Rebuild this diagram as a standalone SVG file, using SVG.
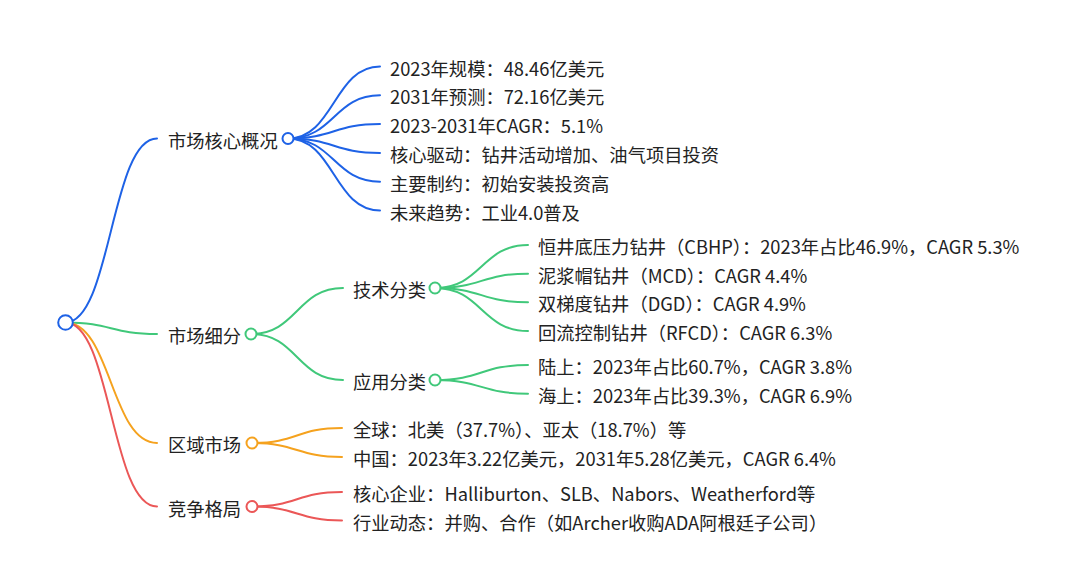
<svg xmlns="http://www.w3.org/2000/svg" width="1080" height="588" viewBox="0 0 1080 588">
<style>
text{font-family:"Noto Sans CJK SC","Noto Sans",sans-serif;font-size:18.3px;fill:#222;}
.l{fill:none;stroke-width:2;stroke-linecap:round;}
.b{stroke:#1e62e6;}.g{stroke:#40c87a;}.o{stroke:#f5a21e;}.r{stroke:#eb5757;}
.c{fill:#fff;stroke-width:2;}
</style>
<rect width="1080" height="588" fill="#fff"/>
<g id="connectors">
<path class="l b" d="M65.5 322.5 C111 322.5 111 138.5 157 138.5"/>
<path class="l g" d="M65.5 322.5 C111 322.5 111 334 157 334"/>
<path class="l o" d="M65.5 322.5 C111 322.5 111 443 157 443"/>
<path class="l r" d="M65.5 322.5 C111 322.5 111 506.5 157 506.5"/>
<path class="l b" d="M288 138.5 C334 138.5 334 66.5 380 66.5"/>
<path class="l b" d="M288 138.5 C334 138.5 334 95.3 380 95.3"/>
<path class="l b" d="M288 138.5 C334 138.5 334 124.1 380 124.1"/>
<path class="l b" d="M288 138.5 C334 138.5 334 152.9 380 152.9"/>
<path class="l b" d="M288 138.5 C334 138.5 334 181.7 380 181.7"/>
<path class="l b" d="M288 138.5 C334 138.5 334 210.5 380 210.5"/>
<path class="l g" d="M251 334 C297 334 297 288 343 288"/>
<path class="l g" d="M251 334 C297 334 297 380 343 380"/>
<path class="l g" d="M435 288 C481.5 288 481.5 245 528 245"/>
<path class="l g" d="M435 288 C481.5 288 481.5 273.7 528 273.7"/>
<path class="l g" d="M435 288 C481.5 288 481.5 302.3 528 302.3"/>
<path class="l g" d="M435 288 C481.5 288 481.5 331 528 331"/>
<path class="l g" d="M435 380 C481.5 380 481.5 365 528 365"/>
<path class="l g" d="M435 380 C481.5 380 481.5 393.7 528 393.7"/>
<path class="l o" d="M252 443 C297 443 297 428 342 428"/>
<path class="l o" d="M252 443 C297 443 297 457 342 457"/>
<path class="l r" d="M252 506.5 C297 506.5 297 492 342 492"/>
<path class="l r" d="M252 506.5 C297 506.5 297 520.5 342 520.5"/>
</g>
<g id="root"><circle class="c b" cx="65.5" cy="322.5" r="7.3"/></g>
<g id="n1"><text x="168" y="147.5">市场核心概况</text><circle class="c b" cx="288" cy="138.5" r="5.5"/></g>
<g id="n1-1"><text x="390" y="75.5">2023年规模：48.46亿美元</text></g>
<g id="n1-2"><text x="390" y="104.3">2031年预测：72.16亿美元</text></g>
<g id="n1-3"><text x="390" y="133.1">2023-2031年CAGR：5.1%</text></g>
<g id="n1-4"><text x="390" y="161.9">核心驱动：钻井活动增加、油气项目投资</text></g>
<g id="n1-5"><text x="390" y="190.7">主要制约：初始安装投资高</text></g>
<g id="n1-6"><text x="390" y="219.5">未来趋势：工业4.0普及</text></g>
<g id="n2"><text x="168" y="343">市场细分</text><circle class="c g" cx="251" cy="334" r="5.5"/></g>
<g id="n2-1"><text x="353" y="297">技术分类</text><circle class="c g" cx="435" cy="288" r="5.5"/></g>
<g id="n2-1-1"><text x="538" y="254">恒井底压力钻井（CBHP）：2023年占比46.9%，CAGR 5.3%</text></g>
<g id="n2-1-2"><text x="538" y="282.7">泥浆帽钻井（MCD）：CAGR 4.4%</text></g>
<g id="n2-1-3"><text x="538" y="311.3">双梯度钻井（DGD）：CAGR 4.9%</text></g>
<g id="n2-1-4"><text x="538" y="340">回流控制钻井（RFCD）：CAGR 6.3%</text></g>
<g id="n2-2"><text x="353" y="389">应用分类</text><circle class="c g" cx="435" cy="380" r="5.5"/></g>
<g id="n2-2-1"><text x="538" y="374">陆上：2023年占比60.7%，CAGR 3.8%</text></g>
<g id="n2-2-2"><text x="538" y="402.7">海上：2023年占比39.3%，CAGR 6.9%</text></g>
<g id="n3"><text x="168" y="452">区域市场</text><circle class="c o" cx="252" cy="443" r="5.5"/></g>
<g id="n3-1"><text x="353" y="437">全球：北美（37.7%）、亚太（18.7%）等</text></g>
<g id="n3-2"><text x="353" y="466">中国：2023年3.22亿美元，2031年5.28亿美元，CAGR 6.4%</text></g>
<g id="n4"><text x="168" y="515.5">竞争格局</text><circle class="c r" cx="252" cy="506.5" r="5.5"/></g>
<g id="n4-1"><text x="353" y="501">核心企业：Halliburton、SLB、Nabors、Weatherford等</text></g>
<g id="n4-2"><text x="353" y="529.5">行业动态：并购、合作（如Archer收购ADA阿根廷子公司）</text></g>
</svg>
